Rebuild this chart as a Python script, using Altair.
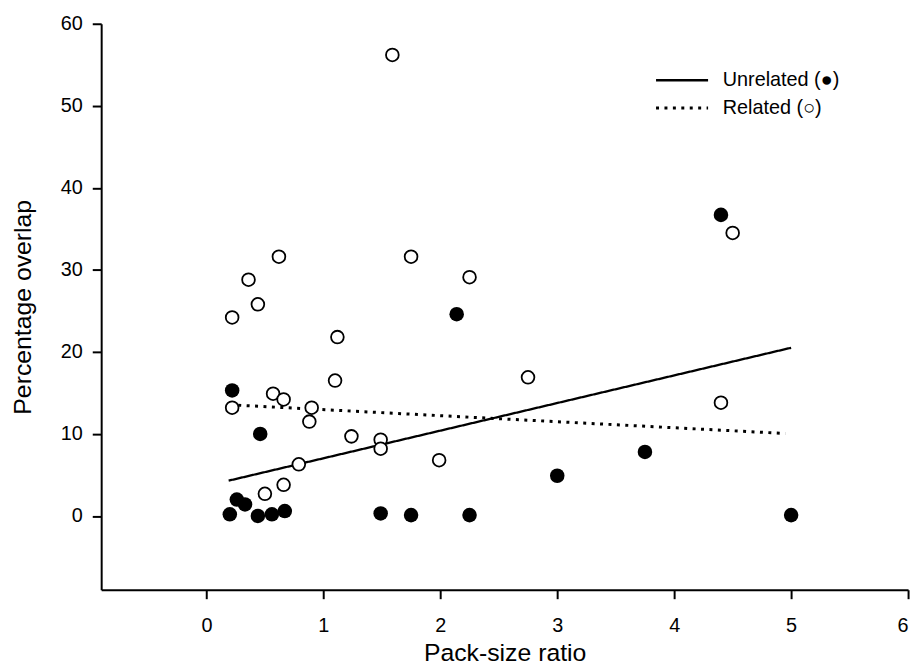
import altair as alt
import pandas as pd

# Unrelated packs (filled circles)
unrelated_x = [0.20, 0.22, 0.26, 0.33, 0.44, 0.46, 0.56, 0.67, 1.49, 1.75, 2.14, 2.25, 3.00, 3.75, 4.40, 5.00]
unrelated_y = [0.2, 15.3, 2.0, 1.4, 0.0, 10.0, 0.2, 0.6, 0.3, 0.1, 24.6, 0.1, 4.9, 7.8, 36.7, 0.1]

# Related packs (open circles)
related_x = [0.22, 0.22, 0.36, 0.44, 0.50, 0.57, 0.62, 0.66, 0.66, 0.79, 0.88, 0.90,
             1.10, 1.12, 1.24, 1.49, 1.49, 1.59, 1.75, 1.99, 2.25, 2.75, 4.40, 4.50]
related_y = [24.2, 13.2, 28.8, 25.8, 2.7, 14.9, 31.6, 3.8, 14.2, 6.3, 11.5, 13.2,
             16.5, 21.8, 9.7, 9.3, 8.2, 56.2, 31.6, 6.8, 29.1, 16.9, 13.8, 34.5]

# Fitted lines (end points)
unrelated_line_x = [0.19, 5.00]
unrelated_line_y = [4.3, 20.5]
related_line_x = [0.20, 4.95]
related_line_y = [13.55, 10.05]

series_labels = ["Unrelated (\u25cf)", "Related (\u25cb)"]

x_ticks = [0, 1, 2, 3, 4, 5, 6]
y_ticks = [0, 10, 20, 30, 40, 50, 60]

pts_unrel = pd.DataFrame({"x": unrelated_x, "y": unrelated_y})
pts_rel = pd.DataFrame({"x": related_x, "y": related_y})
lines = pd.DataFrame({
    "x": unrelated_line_x + related_line_x,
    "y": unrelated_line_y + related_line_y,
    "series": [series_labels[0]] * 2 + [series_labels[1]] * 2,
})

FONT = "Liberation Sans"

xscale = alt.Scale(domain=[-0.9, 6], nice=False, zero=False)
yscale = alt.Scale(domain=[-9, 60], nice=False, zero=False)
xaxis = alt.Axis(values=x_ticks, title="Pack-size ratio", grid=False, format="d")
yaxis = alt.Axis(values=y_ticks, title="Percentage overlap", grid=False, format="d")

line_layer = alt.Chart(lines).mark_line(color="black").encode(
    x=alt.X("x:Q", scale=xscale, axis=xaxis),
    y=alt.Y("y:Q", scale=yscale, axis=yaxis),
    strokeDash=alt.StrokeDash(
        "series:N",
        title=None,
        scale=alt.Scale(domain=series_labels, range=[[1, 0], [3, 5.5]]),
        legend=alt.Legend(
            orient="none", legendX=574, legendY=45,
            symbolType="M-2.5,0H2.5", symbolSize=441, symbolStrokeWidth=2.5,
            symbolStrokeColor="black",
            labelFontSize=20, labelFont=FONT, labelColor="black",
            labelOffset=29, rowPadding=6, padding=0,
        ),
    ),
    strokeWidth=alt.StrokeWidth(
        "series:N",
        scale=alt.Scale(domain=series_labels, range=[2.3, 3]),
        legend=None,
    ),
)

open_layer = alt.Chart(pts_rel).mark_point(
    shape="circle", size=165, filled=True, fill="white", fillOpacity=1,
    stroke="black", strokeWidth=1.8, opacity=1,
).encode(x=alt.X("x:Q", scale=xscale), y=alt.Y("y:Q", scale=yscale))

filled_layer = alt.Chart(pts_unrel).mark_circle(
    size=215, color="black", opacity=1,
).encode(x=alt.X("x:Q", scale=xscale), y=alt.Y("y:Q", scale=yscale))

chart = alt.layer(line_layer, open_layer, filled_layer).properties(
    width=814, height=571,
    padding={"left": 94, "top": 13, "right": 8, "bottom": 73},
    autosize=alt.AutoSizeParams(type="none"),
).configure_view(strokeWidth=0).configure_axis(
    domainColor="black", domainWidth=2,
    tickColor="black", tickWidth=2, tickSize=9,
    labelFont=FONT, labelFontSize=20, labelColor="black",
    titleFont=FONT, titleFontSize=25, titleColor="black", titleFontWeight="normal",
).configure_axisX(labelPadding=17, titlePadding=5).configure_axisY(
    labelPadding=10, titlePadding=25
)

chart.save("out.html", embed_options={"renderer": "svg", "actions": False})
